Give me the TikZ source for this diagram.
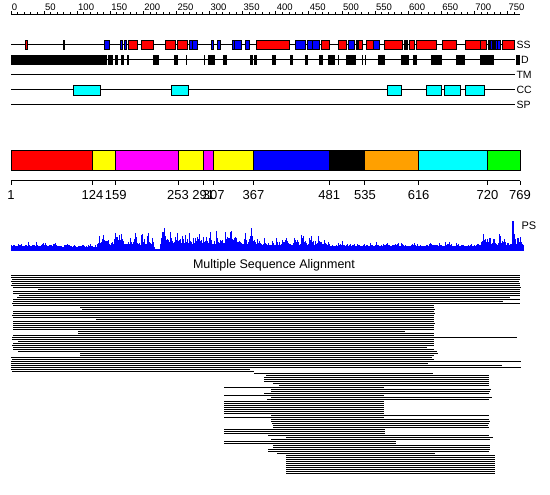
\documentclass[tikz,border=0pt]{standalone}
\usepackage{fontspec}
\setmainfont{Liberation Sans}
\definecolor{cred}{RGB}{255,0,0}
\definecolor{cblue}{RGB}{0,0,255}
\definecolor{cyel}{RGB}{255,255,0}
\definecolor{cmag}{RGB}{255,0,255}
\definecolor{corange}{RGB}{255,160,0}
\definecolor{ccyan}{RGB}{0,255,255}
\definecolor{cgreen}{RGB}{0,255,0}
\begin{document}
\begin{tikzpicture}[x=1pt,y=-1pt,line width=1pt,
  rlab/.style={inner sep=0pt,font=\fontsize{9.5}{10}\selectfont},
  tlab/.style={inner sep=0pt,anchor=west,font=\fontsize{10.5}{11}\selectfont},
  dlab/.style={inner sep=0pt,anchor=north,font=\fontsize{13}{14}\selectfont},
  ssbox/.style={draw=black,line width=0.8pt},
  ccbox/.style={draw=black,line width=0.8pt,fill=ccyan},
  dombox/.style={draw=black,line width=0.9pt}]
\useasboundingbox[fill=white] (0,0) rectangle (550,495);
% ruler
\draw (11,15) -- (520,15);
\foreach \n in {0,10,...,760} {\draw ({11+\n*0.662},15) -- ++(0,-2.5);}
\foreach \n in {0,50,...,750} {
  \draw ({11+\n*0.662},15) -- ++(0,-4);
  \node[rlab,anchor=base west] (r\n) at ({11.5+\n*0.662},10.7) {\n};
}
% tracks
\foreach \yy in {45,60,75,90,105} {\draw (11,\yy) -- (515,\yy);}
\node[tlab] (lss) at (516,45) {SS};
\node[tlab] (ld) at (520.5,60) {D};
\node[tlab] (ltm) at (516,75) {TM};
\node[tlab] (lcc) at (516,90) {CC};
\node[tlab] (lsp) at (516,105) {SP};
% SS
\foreach \a/\b/\c in {25.3/27.3/cred,63/64/black,104.7/109.7/cblue,120/122.3/cblue,124/126.7/cblue,
  128.7/137.7/cred,141.7/153.3/cred,165.7/175.7/cred,177.3/187.5/cred,189/192/cblue,192/197.3/cblue,
  211/213.3/cblue,217.3/220.3/cblue,232/234.5/cblue,234.5/241.7/cblue,245.7/249.3/cblue,
  256.7/289.3/cred,295.5/305.7/cblue,307.3/312.7/cblue,312.7/319.7/cblue,321.5/329/cred,
  338.5/346.3/cred,348.7/354/cblue,356/357.7/cred,358.3/362.7/cred,366.3/373.3/cred,373.3/379.3/cblue,
  384.3/402.3/cred,404/405/black,406/407/black,409.3/414.3/cred,416.7/436.7/cred,442.3/456.3/cred,
  465.3/480.7/cred,480.7/486.7/cred,488/489/black,490/492/cblue,493/494/black,495.3/497.6/cblue,
  497.6/500/cblue,502.3/514.3/cred}
  {\draw[ssbox,fill=\c] (\a,40.5) rectangle (\b,49.5);}
% D
\foreach \a/\b in {11/106.7,107.7/112.7,114.7/118.3,120.7/124,126.7/128.7,153/158.7,173.7/177.7,
  186.2/187.2,203.8/204.8,208.3/214.5,223.2/226.8,250/252.5,254/256.7,272.3/275.5,289.7/293,
  304.7/308,319/322.5,328.2/335.3,337.8/338.8,345.8/356.2,362.2/363.2,365.2/366.2,378.3/385,
  401/409.3,413.3/416.7,431/442.3,455.7/465,480/494,516/520}
  {\fill[black] (\a,55) rectangle (\b,65.5);}
% CC
\foreach \a/\b in {73.3/100.3,171/188.3,387.3/401.3,426.7/441,444.3/460.3,465.3/484.3}
  {\draw[ccbox] (\a,85) rectangle (\b,95.5);}
% domain bar
\foreach \a/\b/\c in {1/124/cred,124/159/cyel,159/253/cmag,253/291/cyel,291/307/cmag,307/367/cyel,
  367/481/cblue,481/535/black,535/616/corange,616/720/ccyan,720/769/cgreen}
  {\draw[dombox,fill=\c] ({11+(\a-1)*0.6628},150.5) rectangle ({11+(\b-1)*0.6628},170.3);}
\draw (11,180.7) -- (520,180.7);
\foreach \n in {1,124,159,253,291,307,367,481,535,616,720,769} {
  \draw ({11+(\n-1)*0.6628},180.7) -- ++(0,4.5);
  \node[dlab] (d\n) at ({11+(\n-1)*0.6628},190) {\n};
}
% PS profile
\pgfmathsetseed{4242}
\gdef\psprev{5}
\foreach \i in {0,...,512} {
  \pgfmathsetmacro\psx{11+\i}
  \pgfmathsetmacro\psb{\psx<60 ? 4.5 : (\psx<97 ? 4 : (\psx<154 ? 6 : (\psx<160 ? 1.5 : (\psx<255 ? 6.5 : (\psx<330 ? 5.5 : (\psx<480 ? 4.5 : 5.5))))))}
  \pgfmathsetmacro\psa{\psx<60 ? 7 : (\psx<97 ? 4 : (\psx<154 ? 19 : (\psx<160 ? 1 : (\psx<255 ? 21 : (\psx<330 ? 14 : (\psx<480 ? 7 : 17))))))}
  \pgfmathsetmacro\psn{\psb+\psa*rnd*rnd}
  \pgfmathsetmacro\psh{(\psx>511 && \psx<513.5) ? 30 : 0.2*\psprev+0.8*\psn}
  \global\let\psprev\psh
  \fill[cblue] (\psx,251) rectangle ++(1.05,-\psh);
}
\node[tlab,font=\fontsize{11}{12}\selectfont] (lps) at (521,226) {PS};
% MSA
\node[inner sep=0pt,font=\fontsize{12.5}{13}\selectfont] (msa) at (274,265.5) {Multiple Sequence Alignment};
\foreach \yy/\a/\b in {275/11/520,277/11/520,279/12/520,281/11/519,283/12/520,285/11/520,287/13/521,
  289/38/520,291/13/520,293/13/520,295/19/520,297/17/510,299/13/520,301/13/503,303/12/520,305/13/434,
  307/80/434,309/82/435,311/13/434,313/13/435,315/12/434,317/13/434,319/96/434,321/13/434,323/13/435,
  325/13/434,327/13/434,329/13/434,331/78/405,333/78/434,335/13/434,337/12/517,339/12/434,341/18/434,
  343/13/434,345/12/434,347/13/427,349/13/434,351/18/437,353/80/438,355/80/434,357/11/432,359/12/434,
  361/11/521,363/11/428,365/11/502,367/11/521,369/11/250,371/12/254,373/254/433,375/266/489,
  377/264/489,379/264/489,381/264/489,383/273/489,385/279/489,387/224/384,389/271/491,391/271/490,
  393/264/489,395/224/384,397/271/492,399/267/489,401/224/384,403/224/384,405/224/384,407/224/384,
  409/224/384,411/224/384,413/224/384,415/271/489,417/224/384,419/271/489,421/271/490,423/272/489,
  425/273/488,427/273/489,429/224/385,431/224/385,433/224/385,435/268/489,437/286/493,439/271/490,
  441/224/396,443/224/396,445/273/490,447/273/490,449/268/490,451/268/489,453/277/435,455/286/495,
  457/286/495,459/286/495,461/286/495,463/286/495,465/286/495,467/286/495,469/286/495,471/286/495,
  473/286/495}
  {\draw (\a,\yy) -- (\b,\yy);}
\end{tikzpicture}
\end{document}
